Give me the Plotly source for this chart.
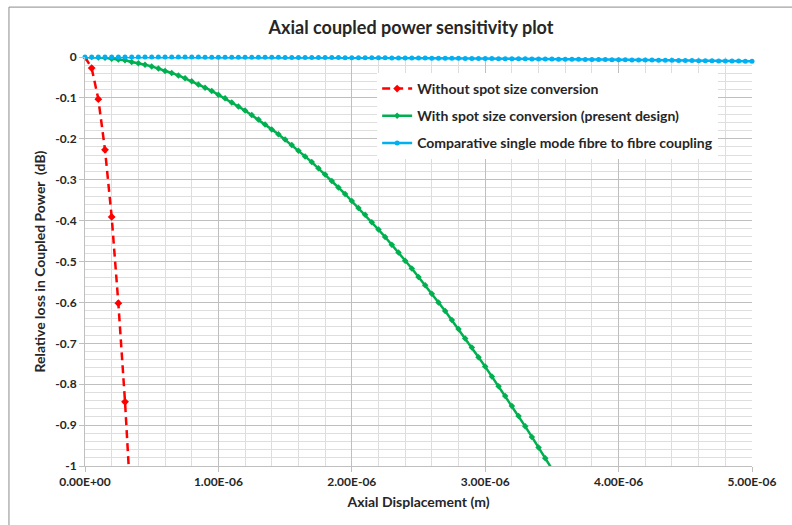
import plotly.graph_objects as go

# Axial displacement sample grid (micrometres; axis labelled in metres)
x_um = [0.00, 0.05, 0.10, 0.15, 0.20, 0.25, 0.30, 0.35, 0.40, 0.45,
        0.50, 0.55, 0.60, 0.65, 0.70, 0.75, 0.80, 0.85, 0.90, 0.95,
        1.00, 1.05, 1.10, 1.15, 1.20, 1.25, 1.30, 1.35, 1.40, 1.45,
        1.50, 1.55, 1.60, 1.65, 1.70, 1.75, 1.80, 1.85, 1.90, 1.95,
        2.00, 2.05, 2.10, 2.15, 2.20, 2.25, 2.30, 2.35, 2.40, 2.45,
        2.50, 2.55, 2.60, 2.65, 2.70, 2.75, 2.80, 2.85, 2.90, 2.95,
        3.00, 3.05, 3.10, 3.15, 3.20, 3.25, 3.30, 3.35, 3.40, 3.45,
        3.50, 3.55, 3.60, 3.65, 3.70, 3.75, 3.80, 3.85, 3.90, 3.95,
        4.00, 4.05, 4.10, 4.15, 4.20, 4.25, 4.30, 4.35, 4.40, 4.45,
        4.50, 4.55, 4.60, 4.65, 4.70, 4.75, 4.80, 4.85, 4.90, 4.95,
        5.00]

# Relative loss (dB)
red_loss = [0, -0.027, -0.103, -0.227, -0.391, -0.602, -0.843, -1.13]

green_loss = [0, -0.0002, -0.001, -0.002, -0.004, -0.006, -0.008, -0.012, -0.015, -0.019,
              -0.023, -0.028, -0.034, -0.039, -0.045, -0.052, -0.059, -0.067, -0.075, -0.083,
              -0.092, -0.101, -0.111, -0.121, -0.131, -0.142, -0.153, -0.165, -0.177, -0.189,
              -0.202, -0.215, -0.229, -0.243, -0.257, -0.272, -0.287, -0.303, -0.319, -0.335,
              -0.352, -0.369, -0.386, -0.404, -0.422, -0.440, -0.459, -0.478, -0.498, -0.517,
              -0.538, -0.558, -0.579, -0.600, -0.621, -0.643, -0.665, -0.688, -0.710, -0.734,
              -0.757, -0.781, -0.805, -0.829, -0.853, -0.878, -0.903, -0.929, -0.955, -0.981,
              -1.007]

cyan_loss = [0, 0, 0, -0.00001, -0.00002, -0.00003, -0.00004, -0.00005, -0.00007, -0.00009,
             -0.00011, -0.00013, -0.00015, -0.00018, -0.00021, -0.00024, -0.00027, -0.00030, -0.00034, -0.00038,
             -0.00042, -0.00046, -0.00051, -0.00056, -0.00060, -0.00066, -0.00071, -0.00077, -0.00082, -0.00088,
             -0.00095, -0.00101, -0.00108, -0.00114, -0.00121, -0.00129, -0.00136, -0.00144, -0.00152, -0.00160,
             -0.00168, -0.00177, -0.00185, -0.00194, -0.00203, -0.00213, -0.00222, -0.00232, -0.00242, -0.00252,
             -0.00263, -0.00273, -0.00284, -0.00295, -0.00306, -0.00318, -0.00329, -0.00341, -0.00353, -0.00366,
             -0.00378, -0.00391, -0.00404, -0.00417, -0.00430, -0.00444, -0.00457, -0.00471, -0.00486, -0.00500,
             -0.00515, -0.00529, -0.00544, -0.00560, -0.00575, -0.00591, -0.00606, -0.00623, -0.00639, -0.00655,
             -0.00672, -0.00689, -0.00706, -0.00723, -0.00741, -0.00759, -0.00777, -0.00795, -0.00813, -0.00832,
             -0.00851, -0.00870, -0.00889, -0.00908, -0.00928, -0.00948, -0.00968, -0.00988, -0.01008, -0.01029,
             -0.01050]

series_names = ["Without spot size conversion",
                "With spot size conversion (present design)",
                "Comparative single mode fibre to fibre coupling"]

x_tick_vals = [0, 1, 2, 3, 4, 5]
x_tick_text = ["0.00E+00", "1.00E-06", "2.00E-06", "3.00E-06", "4.00E-06", "5.00E-06"]
y_tick_vals = [0, -0.1, -0.2, -0.3, -0.4, -0.5, -0.6, -0.7, -0.8, -0.9, -1]
y_tick_text = ["0", "-0.1", "-0.2", "-0.3", "-0.4", "-0.5", "-0.6", "-0.7", "-0.8", "-0.9", "-1"]

FONT = "Lato"
TXT = "#262626"

fig = go.Figure()
fig.add_trace(go.Scatter(
    x=x_um[:len(red_loss)], y=red_loss, name=series_names[0], mode="lines+markers",
    line=dict(color="#FF0000", width=2.5, dash="8px,5px"),
    marker=dict(symbol="diamond", size=6, color="#FF0000"),
    legendgroup="a"))
fig.add_trace(go.Scatter(
    x=x_um[:len(green_loss)], y=green_loss, name=series_names[1], mode="lines+markers",
    line=dict(color="#00B050", width=2.5),
    marker=dict(symbol="diamond", size=5, color="#00B050"),
    legendgroup="b"))
fig.add_trace(go.Scatter(
    x=x_um[:len(cyan_loss)], y=cyan_loss, name=series_names[2], mode="lines+markers",
    line=dict(color="#00B0F0", width=2.5),
    marker=dict(symbol="circle", size=5, color="#00B0F0"),
    cliponaxis=False, legendgroup="c"))

fig.update_layout(
    width=792, height=525,
    margin=dict(l=85, r=40, t=57, b=59),
    paper_bgcolor="white", plot_bgcolor="white",
    font=dict(family=FONT, color=TXT, size=12),
    title=dict(text="<b>Axial coupled power sensitivity plot</b>", x=0.519, xanchor="center",
               y=0.947, yanchor="middle", font=dict(family=FONT, size=18, color=TXT)),
    showlegend=True,
    legend=dict(x=0.438, y=0.961, xanchor="left", yanchor="top",
                bgcolor="white", borderwidth=0, tracegroupgap=6, traceorder="grouped",
                entrywidth=320, entrywidthmode="pixels",
                font=dict(family=FONT, size=14, color=TXT, weight="bold")),
    shapes=[dict(type="rect", xref="paper", yref="paper",
                 x0=-0.114, x1=1.09, y0=-0.16, y1=1.122,
                 line=dict(color="#8c8c8c", width=1), fillcolor="rgba(0,0,0,0)", layer="below")],
)

fig.update_xaxes(
    range=[0, 5], tickvals=x_tick_vals, ticktext=x_tick_text,
    tickfont=dict(family=FONT, size=12, color=TXT, weight="bold"),
    showgrid=True, gridcolor="#bfbfbf", gridwidth=1,
    minor=dict(dtick=0.2, showgrid=True, gridcolor="#dedede", gridwidth=1),
    showline=True, linecolor="#bfbfbf", linewidth=1,
    ticks="outside", ticklen=5, tickcolor="#bfbfbf",
    zeroline=False,
    title=dict(text="<b>Axial Displacement (m)</b>", font=dict(family=FONT, size=14, color=TXT), standoff=8),
)
fig.update_yaxes(
    range=[-1, 0], tickvals=y_tick_vals, ticktext=y_tick_text,
    tickfont=dict(family=FONT, size=12, color=TXT, weight="bold"),
    showgrid=True, gridcolor="#bfbfbf", gridwidth=1,
    minor=dict(dtick=0.02, showgrid=True, gridcolor="#dedede", gridwidth=1),
    showline=True, linecolor="#bfbfbf", linewidth=1,
    ticks="outside", ticklen=5, tickcolor="#bfbfbf",
    zeroline=False,
    title=dict(text="<b>Relative loss in Coupled Power  (dB)</b>", font=dict(family=FONT, size=14, color=TXT), standoff=6),
)

fig.write_html("out.html", config={"displayModeBar": False},
               post_script="document.body.style.margin='0';")
